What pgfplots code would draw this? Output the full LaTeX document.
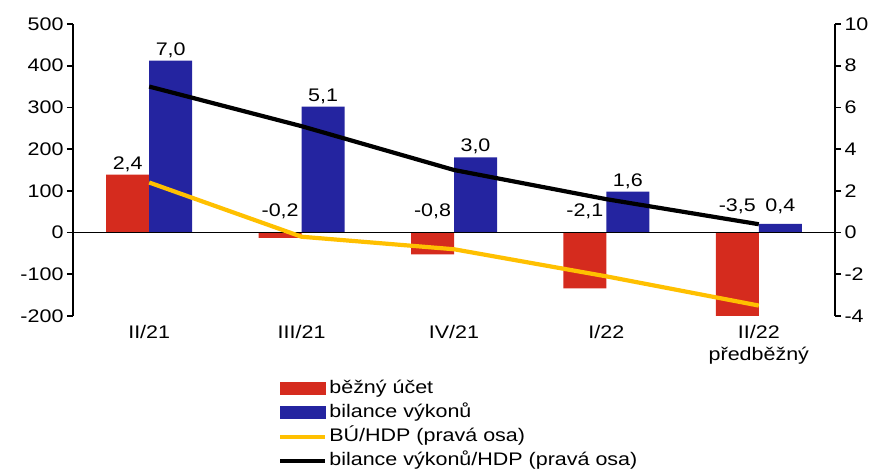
\documentclass[border=0pt]{standalone}
\usepackage{pgfplots}
\pgfplotsset{compat=1.18}
\usepackage{fontspec}
\setmainfont[FakeStretch=1.18]{Liberation Sans}
\usetikzlibrary{calc}
\definecolor{barred}{RGB}{213,43,30}
\definecolor{barblue}{RGB}{36,36,160}
\definecolor{lineyel}{RGB}{255,192,0}
\begin{document}
\begin{tikzpicture}[font=\fontsize{18.2}{22}\selectfont]
\pgfplotsset{
  common/.style={
    width=762pt, height=292pt, scale only axis,
    xmin=-0.5, xmax=4.5,
    /pgf/number format/assume math mode=true,
    tick label style={font=\fontsize{18.2}{22}\selectfont},
    major tick length=6pt, tick align=outside,
    axis line style={line width=1.8pt},
    tick style={line width=1.8pt, black},
  },
}
\begin{axis}[common, name=ax,
  ymin=-200, ymax=500, ytick={-200,-100,...,500},
  axis y line*=left, axis x line*=bottom,
  x axis line style={draw=none},
  xtick={0,...,4},
  xticklabels={II/21,III/21,IV/21,I/22,{II/22\\předběžný}},
  xticklabel style={align=center},
  x tick style={draw=none},
]
\addplot[ybar, bar width=43pt, bar shift=-21.5pt, fill=barred, draw=none] coordinates {(0,139) (1,-13) (2,-52) (3,-134) (4,-200)};
\addplot[ybar, bar width=43pt, bar shift=21.5pt, fill=barblue, draw=none] coordinates {(0,412) (1,302) (2,180) (3,98) (4,21)};
\draw[line width=1.8pt] (axis cs:-0.5,0) -- (axis cs:4.5,0);
\addplot[only marks, mark=none, nodes near coords, point meta=explicit symbolic,
  nodes near coords style={anchor=south, inner sep=3pt, xshift=-21.5pt, font=\fontsize{18.2}{22}\selectfont, text=black}]
  table[meta=lab] {
x y lab
0 139 2,4
1 26 -0,2
2 26 -0,8
3 26 -2,1
4 38 -3,5
};
\addplot[only marks, mark=none, nodes near coords, point meta=explicit symbolic,
  nodes near coords style={anchor=south, inner sep=3pt, xshift=21.5pt, font=\fontsize{18.2}{22}\selectfont, text=black}]
  table[meta=lab] {
x y lab
0 412 7,0
1 302 5,1
2 180 3,0
3 98 1,6
4 38 0,4
};
\end{axis}
\begin{axis}[common,
  ymin=-4, ymax=10, ytick={-4,-2,...,10},
  axis y line*=right, axis x line=none,
  legend image code/.code={\draw[#1] (0pt,0pt) -- (45pt,0pt);},
  legend style={at={(axis description cs:0.269,-0.207)}, anchor=north west,
    draw=none, fill=none, inner sep=0pt, row sep=0pt,
    font=\fontsize{18.2}{22}\selectfont,
    nodes={inner xsep=2pt, inner ysep=2pt, text height=15pt, text depth=5pt}},
  legend cell align=left,
]
\addlegendimage{legend image code/.code={\fill[barred] (0pt,-6pt) rectangle (45pt,6pt);}}
\addlegendentry{běžný účet}
\addlegendimage{legend image code/.code={\fill[barblue] (0pt,-6pt) rectangle (45pt,6pt);}}
\addlegendentry{bilance výkonů}
\addplot[lineyel, line width=4.2pt] coordinates {(0,2.4) (1,-0.2) (2,-0.8) (3,-2.1) (4,-3.5)};
\addlegendentry{BÚ/HDP (pravá osa)}
\addplot[black, line width=4.2pt] coordinates {(0,7.0) (1,5.1) (2,3.0) (3,1.6) (4,0.4)};
\addlegendentry{bilance výkonů/HDP (pravá osa)}
\end{axis}
\path ($(ax.south west)+(-73pt,-155pt)$) rectangle ($(ax.north east)+(44pt,24pt)$);
\end{tikzpicture}
\end{document}
